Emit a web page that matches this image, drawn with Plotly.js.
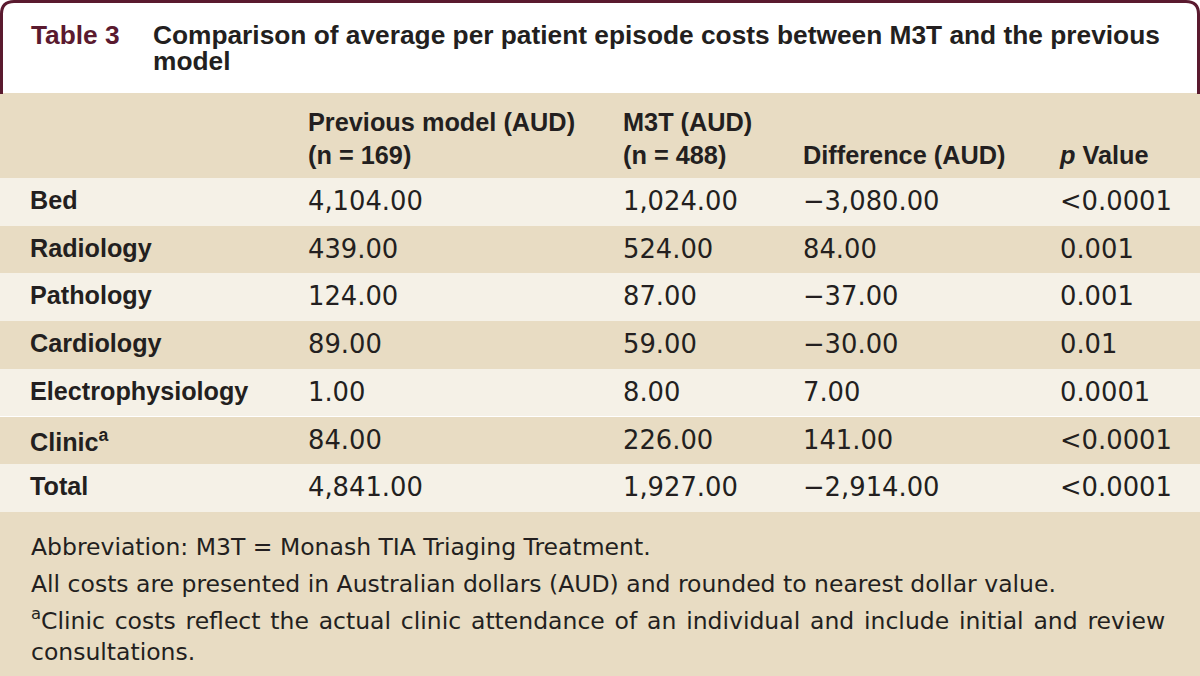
<!DOCTYPE html>
<html>
<head>
<meta charset="utf-8">
<script src="https://cdn.plot.ly/plotly-3.0.1.min.js"></script>
<style>html,body{margin:0;padding:0;background:#fff;}#chart{width:1200px;height:676px;}</style>
</head>
<body>
<div id="chart"></div>
<script>
// ---- data ----
const categories = ['Bed', 'Radiology', 'Pathology', 'Cardiology', 'Electrophysiology', 'Clinic<sup>a</sup>', 'Total'];
const previousModel = [4104, 439, 124, 89, 1, 84, 4841];
const m3t = [1024, 524, 87, 59, 8, 226, 1927];
const difference = [-3080, 84, -37, -30, 7, 141, -2914];
const pValues = ['&lt;0.0001', '0.001', '0.001', '0.01', '0.0001', '&lt;0.0001', '&lt;0.0001'];
const headers = ['', '', 'Previous model (AUD)<br>(n = 169)', 'M3T (AUD)<br>(n = 488)', '\u00a0<br>Difference (AUD)', '\u00a0<br><i>p</i> Value'];
const titleLabel = 'Table 3';
const titleLines = ['Comparison of average per patient episode costs between M3T and the previous', 'model'];
const footnotes = [
  'Abbreviation: M3T = Monash TIA Triaging Treatment.',
  'All costs are presented in Australian dollars (AUD) and rounded to nearest dollar value.',
  '<sup>a</sup>Clinic costs reflect the actual clinic attendance of an individual and include initial and review',
  'consultations.'
];

// ---- styles ----
const MAROON = '#5a1a2f';
const BEIGE = '#e8dcc3';
const LIGHT = '#f5f1e7';
const INK = '#231f20';

function fmt(v) {
  return v.toLocaleString('en-US', {minimumFractionDigits: 2, maximumFractionDigits: 2}).replace('-', '\u2212');
}
const wrap = s => '<span>' + s + '</span>';

const rowFill = categories.map((_, i) => i % 2 === 0 ? LIGHT : BEIGE);
const fills = [0,1,2,3,4,5].map(() => rowFill);

const HEAD_TOP = 100, BODY_BOTTOM = 512;

const tableTrace = {
  type: 'table',
  domain: {x: [0, 1], y: [1 - BODY_BOTTOM/676, 1 - HEAD_TOP/676]},
  columnwidth: [22, 278, 315, 180, 257, 148],
  header: {
    values: headers.map(h => h ? ['<b>' + h + '</b>'] : ['']),
    align: 'left',
    height: 78,
    fill: {color: BEIGE},
    line: {width: 0, color: BEIGE},
    font: {family: 'Liberation Sans, Arial, sans-serif', size: 25.3, color: INK}
  },
  cells: {
    values: [
      categories.map(() => ''),
      categories.map(c => '<b>' + c + '</b>'),
      previousModel.map(v => wrap(fmt(v))),
      m3t.map(v => wrap(fmt(v))),
      difference.map(v => wrap(fmt(v))),
      pValues.map(wrap)
    ],
    align: 'left',
    height: 47.7,
    fill: {color: fills},
    line: {width: 0, color: LIGHT},
    font: {
      family: ['DejaVu Sans', 'Liberation Sans, Arial, sans-serif', 'DejaVu Sans', 'DejaVu Sans', 'DejaVu Sans', 'DejaVu Sans'],
      size: [25, 25.2, 25.8, 25.8, 25.8, 25.8],
      color: INK
    }
  }
};

const dummy = {type: 'scatter', x: [], y: [], showlegend: false, hoverinfo: 'skip'};

const TFONT = {family: 'Liberation Sans, Arial, sans-serif', size: 26.3};
const annotations = [
  {xref: 'x', yref: 'y', x: 29, y: 35, xanchor: 'left', yanchor: 'middle', showarrow: false,
   text: '<b>' + titleLabel + '</b>', font: Object.assign({color: MAROON}, TFONT)},
  {xref: 'x', yref: 'y', x: 151, y: 35, xanchor: 'left', yanchor: 'middle', showarrow: false,
   text: '<b>' + titleLines[0] + '</b>', font: Object.assign({color: INK}, TFONT)},
  {xref: 'x', yref: 'y', x: 151, y: 61, xanchor: 'left', yanchor: 'middle', showarrow: false,
   text: '<b>' + titleLines[1] + '</b>', font: Object.assign({color: INK}, TFONT)}
];
const footY = [547, 584, 619, 652];
footnotes.forEach((t, i) => {
  const txt = i === 2 ? t.split(' ').join(' \u200a') : t;
  annotations.push({xref: 'x', yref: 'y', x: 29, y: footY[i], xanchor: 'left', yanchor: 'middle', showarrow: false,
    text: txt, font: {family: 'DejaVu Sans', size: 23.5, color: INK}});
});

const shapes = [
  {type: 'rect', xref: 'x', yref: 'y', x0: 0, x1: 1200, y0: 93, y1: 101, fillcolor: BEIGE, line: {width: 0}, layer: 'below'},
  {type: 'rect', xref: 'x', yref: 'y', x0: 0, x1: 1200, y0: 511, y1: 676, fillcolor: BEIGE, line: {width: 0}, layer: 'below'},
  {type: 'path', xref: 'x', yref: 'y', layer: 'above',
   path: 'M 1.5 94 L 1.5 14 Q 1.5 1.5 14 1.5 L 1186 1.5 Q 1198.5 1.5 1198.5 14 L 1198.5 94',
   line: {color: MAROON, width: 3}}
];

const layout = {
  width: 1200, height: 676,
  margin: {l: 0, r: 0, t: 0, b: 0, pad: 0},
  paper_bgcolor: '#ffffff', plot_bgcolor: 'rgba(0,0,0,0)',
  showlegend: false,
  xaxis: {range: [0, 1200], visible: false, fixedrange: true},
  yaxis: {range: [676, 0], visible: false, fixedrange: true},
  annotations: annotations,
  shapes: shapes
};

Plotly.newPlot('chart', [dummy, tableTrace], layout, {displayModeBar: false, staticPlot: true});
</script>
</body>
</html>
